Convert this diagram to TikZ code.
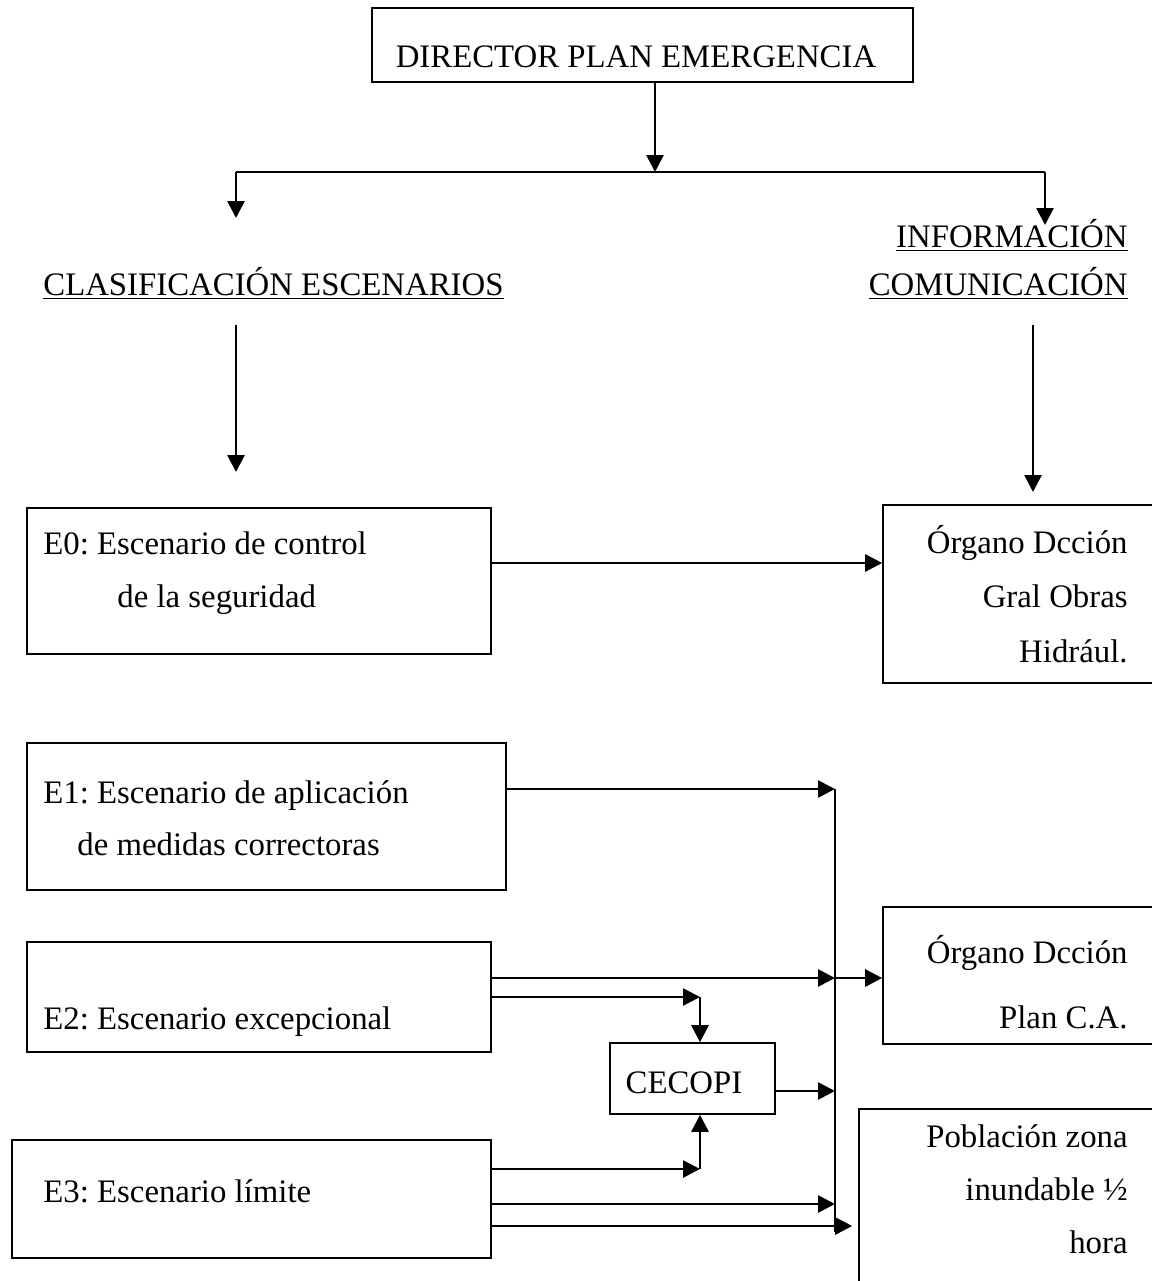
\documentclass[tikz,border=0pt]{standalone}
\usepackage{fontspec}
\setmainfont{Liberation Serif}
\usepackage{tikz}
\usetikzlibrary{arrows.meta,positioning,fit,calc}
\frenchspacing

\begin{document}
\begin{tikzpicture}[x=0.5pt, y=-0.5pt, >={Triangle[length=8.5pt,width=8.5pt]},
	   font=\fontsize{16.4}{27}\selectfont,
	   b/.style={draw, line width=0.8pt, inner sep=0pt},
	   t/.style={inner sep=0pt},
	   l/.style={t, anchor=base west},
	   r/.style={t, anchor=base east},
	   a/.style={->, line width=1.35pt},
	   ln/.style={line width=1.35pt}]
	  \useasboundingbox (0,0) rectangle (1152,1281);
	  % boxes
	  \node[b, fit={(372,8) (913,82)}] (dir) {};
	  \node[b, fit={(27,508) (491,654)}] (e0) {};
	  \node[b, fit={(883,505) (1160,683)}] (org1) {};
	  \node[b, fit={(27,743) (506,890)}] (e1) {};
	  \node[b, fit={(27,942) (491,1052)}] (e2) {};
	  \node[b, fit={(883,907) (1160,1044)}] (org2) {};
	  \node[b, fit={(610,1043) (775,1114)}] (cec) {};
	  \node[b, fit={(12,1140) (491,1258)}] (e3) {};
	  \node[b, fit={(859,1109) (1160,1290)}] (pob) {};
	  % texts
	  \node[t, anchor=base] (dirt) at (636,67) {DIRECTOR PLAN EMERGENCIA};
	  \node[r] (inf) at (1128,247) {\underline{INFORMACIÓN}};
	  \node[r] (com) at (1128,295) {\underline{COMUNICACIÓN}};
	  \node[l] (cla) at (43,295) {\underline{CLASIFICACIÓN ESCENARIOS}};
	  \node[l] (e0a) at (43,554) {E0: Escenario de control};
	  \node[l] (e0b) at (117,607) {de la seguridad};
	  \node[r] (o1a) at (1128,553) {Órgano Dcción};
	  \node[r] (o1b) at (1128,607) {Gral Obras};
	  \node[r] (o1c) at (1128,662) {Hidrául.};
	  \node[l] (e1a) at (43,803) {E1: Escenario de aplicación};
	  \node[l] (e1b) at (77,855) {de medidas correctoras};
	  \node[r] (o2a) at (1128,963) {Órgano Dcción};
	  \node[r] (o2b) at (1128,1028) {Plan C.A.};
	  \node[l] (e2a) at (43,1029) {E2: Escenario excepcional};
	  \node[t, anchor=base] (cect) at (684,1093) {CECOPI};
	  \node[l] (e3a) at (43,1202) {E3: Escenario límite};
	  \node[r] (p1) at (1128,1147) {Población zona};
	  \node[r] (p2) at (1128,1200) {inundable ½};
	  \node[r] (p3) at (1128,1253) {hora};
	  % junctions
	  \coordinate (sp) at (655,172);
	  \coordinate (hl) at (236,172);
	  \coordinate (hr) at (1045,172);
	  \coordinate (hle) at (236,218);
	  \coordinate (hre) at (1045,225);
	  \coordinate (cl1) at (236,325);
	  \coordinate (cl2) at (236,472);
	  \coordinate (ic1) at (1033,325);
	  \coordinate (ic2) at (1033,492);
	  \coordinate (bt) at (835,789);
	  \coordinate (bb) at (835,1232);
	  \coordinate (k2) at (700,997);
	  \coordinate (k3) at (700,1169);
	  % arrows
	  \draw[a] (dir.south -| sp) -- (sp);
	  \draw[ln] (hl) -- (hr);
	  \draw[a] (hl) -- (hle);
	  \draw[a] (hr) -- (hre);
	  \draw[a] (cl1) -- (cl2);
	  \draw[a] (ic1) -- (ic2);
	  \draw[a] (e0.east |- 0,563) -- (org1.west |- 0,563);
	  \draw[a] (e1.east |- bt) -- (bt);
	  \draw[ln] (bt) -- (bb);
	  \draw[a] (e2.east |- 0,978) -- (bt |- 0,978);
	  \draw[a] (bt |- 0,978) -- (org2.west |- 0,978);
	  \draw[a] (e2.east |- k2) -- (k2);
	  \draw[a] (k2) -- (cec.north -| k2);
	  \draw[a] (cec.east |- 0,1091) -- (bt |- 0,1091);
	  \draw[a] (e3.east |- k3) -- (k3);
	  \draw[a] (k3) -- (cec.south -| k3);
	  \draw[a] (e3.east |- 0,1204) -- (bt |- 0,1204);
	  \draw[a, shorten >=3pt] (e3.east |- 0,1226) -- (pob.west |- 0,1226);
	\end{tikzpicture}
\end{document}
